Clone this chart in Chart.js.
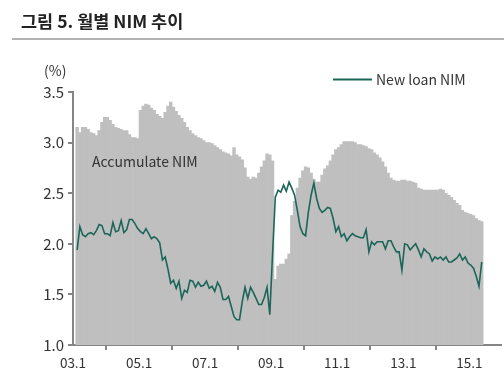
<!DOCTYPE html>
<html>
<head>
<meta charset="utf-8">
<script src="https://cdn.jsdelivr.net/npm/chart.js@4.4.1/dist/chart.umd.min.js"></script>
<style>
  html, body { margin: 0; padding: 0; background: #fff; }
  #wrap { position: relative; width: 504px; height: 379px; }
</style>
</head>
<body>
<div id="wrap"><canvas id="nimChart" width="504" height="379"></canvas></div>
<script>
// 제목과 범례
const chartTitle = "그림 5. 월별 NIM 추이";
const unitLabel = "(%)";
const accLabel = "Accumulate NIM";
const newLabel = "New loan NIM";

// x축 눈금 (24개월 간격)
const tickLabels = ["03.1", "05.1", "07.1", "09.1", "11.1", "13.1", "15.1"];
const firstMonth = 1;         // 데이터는 두 번째 칸부터 시작

// 누적 NIM (월별, 막대)
const accumulateNim = [
  3.15, 3.10, 3.15, 3.15, 3.13, 3.10, 3.09, 3.07, 3.12, 3.20,
  3.25, 3.25, 3.22, 3.18, 3.15, 3.14, 3.13, 3.12, 3.12, 3.08,
  3.05, 3.05, 3.04,
  3.32, 3.36, 3.38, 3.37, 3.34, 3.32, 3.28, 3.26, 3.24, 3.30,
  3.36, 3.40, 3.35, 3.31, 3.27, 3.24, 3.20, 3.15, 3.12, 3.09,
  3.07, 3.05, 3.04, 3.02,
  3.00, 3.00, 2.99, 2.97, 2.95, 2.93, 2.91, 2.90, 2.89, 2.87,
  2.95, 2.88, 2.86, 2.83, 2.75, 2.66, 2.64, 2.66, 2.65, 2.70,
  2.76, 2.82, 2.89, 2.88,
  2.82, 1.65, 1.78, 1.80, 1.80, 1.85, 1.90, 2.28, 2.42, 2.55,
  2.65, 2.72, 2.76, 2.75, 2.70, 2.64, 2.61, 2.61, 2.68, 2.74,
  2.77, 2.82, 2.88, 2.93,
  2.95, 2.98, 3.01, 3.01, 3.01, 3.01, 3.00, 2.98, 2.98, 2.97,
  2.96, 2.94, 2.93, 2.90, 2.88, 2.85, 2.81, 2.76, 2.70, 2.65,
  2.63, 2.62, 2.62, 2.63,
  2.63, 2.62, 2.62, 2.61, 2.60, 2.55, 2.54, 2.53, 2.53, 2.53,
  2.53, 2.53, 2.53, 2.54, 2.53, 2.50, 2.48, 2.46, 2.43, 2.40,
  2.38, 2.33, 2.31, 2.30,
  2.29, 2.28, 2.25, 2.23, 2.22
];

// 신규취급 NIM (월별, 선)
const newLoanNim = [
  1.94, 2.17, 2.09, 2.07, 2.10, 2.11, 2.09, 2.13, 2.19, 2.18,
  2.10, 2.10, 2.08, 2.21, 2.12, 2.13, 2.23, 2.11, 2.14, 2.24,
  2.24, 2.20, 2.15, 2.12, 2.10, 2.15, 2.10, 2.05, 2.07, 2.05,
  2.01, 1.84, 1.87, 1.75, 1.61, 1.64, 1.56, 1.63, 1.46, 1.54,
  1.52, 1.64, 1.63, 1.57, 1.62, 1.58, 1.59, 1.63, 1.56, 1.58,
  1.53, 1.62, 1.57, 1.45, 1.45, 1.48, 1.38, 1.28, 1.25, 1.25,
  1.43, 1.57, 1.46, 1.57, 1.52, 1.46, 1.40, 1.40, 1.47, 1.57,
  1.30, 1.90, 2.46, 2.53, 2.51, 2.58, 2.52, 2.61, 2.55, 2.48,
  2.33, 2.17, 2.10, 2.08, 2.31, 2.48, 2.60, 2.45, 2.35, 2.31,
  2.33, 2.36, 2.35, 2.25, 2.12, 2.17, 2.07, 2.10, 2.03,
  2.07, 2.10, 2.08, 2.07, 2.06, 2.06, 2.14, 1.92, 2.02, 1.99,
  2.02, 2.02, 2.02, 1.95, 2.03, 2.03, 1.97, 1.92, 1.92, 1.74,
  2.00, 1.99, 1.94, 1.97, 2.00, 1.94, 1.87, 1.95, 1.92, 1.90,
  1.83, 1.87, 1.85, 1.87, 1.84, 1.87, 1.82, 1.82, 1.84, 1.86,
  1.90, 1.84, 1.87, 1.81, 1.79, 1.76, 1.68, 1.58, 1.82
];

const barColor = "#bfbfbf";
const lineColor = "#1b6658";
const axisColor = "#858585";
const textColor = "#333333";
const fontFamily = '"Noto Sans CJK KR", "Noto Sans", sans-serif';

// 각 월의 중앙 위치에 점 배치
const toPoints = arr => arr.map((v, i) => ({ x: firstMonth + i + 0.5, y: v }));

// 제목, 단위, 범례 등 텍스트
const textPlugin = {
  id: "texts",
  afterDraw(chart) {
    const ctx = chart.ctx;
    ctx.save();
    ctx.textBaseline = "middle";

    ctx.fillStyle = "#222";
    ctx.font = "bold 17.5px " + fontFamily;
    ctx.fillText(chartTitle, 21, 21);

    ctx.strokeStyle = "#9a9a9a";
    ctx.lineWidth = 1.5;
    ctx.beginPath();
    ctx.moveTo(12, 39);
    ctx.lineTo(504, 39);
    ctx.stroke();

    ctx.fillStyle = textColor;
    ctx.font = "14px " + fontFamily;
    ctx.fillText(unitLabel, 44, 71);
    ctx.fillText(accLabel, 92, 162);

    ctx.strokeStyle = lineColor;
    ctx.lineWidth = 2;
    ctx.beginPath();
    ctx.moveTo(333, 79.5);
    ctx.lineTo(372, 79.5);
    ctx.stroke();
    ctx.fillText(newLabel, 376, 80);
    ctx.restore();
  }
};

const ctx = document.getElementById("nimChart").getContext("2d");
new Chart(ctx, {
  data: {
    datasets: [
      {
        type: "line",
        label: newLabel,
        data: toPoints(newLoanNim),
        borderColor: lineColor,
        borderWidth: 1.6,
        pointRadius: 0,
        tension: 0,
        order: 0
      },
      {
        type: "bar",
        label: accLabel,
        data: toPoints(accumulateNim),
        backgroundColor: barColor,
        borderWidth: 0,
        barPercentage: 1,
        categoryPercentage: 1,
        order: 1
      }
    ]
  },
  options: {
    responsive: false,
    animation: false,
    layout: { padding: { left: 0, top: 92, right: 3, bottom: 0 } },
    plugins: {
      legend: { display: false },
      tooltip: { enabled: false }
    },
    scales: {
      x: {
        type: "linear",
        min: 0,
        max: 155.5,
        offset: false,
        afterBuildTicks: scale => {
          scale.ticks = tickLabels.map((_, i) => ({ value: i * 24 }));
        },
        afterFit: scale => { scale.height = 34; },
        ticks: {
          autoSkip: false,
          maxRotation: 0,
          padding: 5,
          color: textColor,
          font: { family: fontFamily, size: 13.5 },
          callback: (value, index) => tickLabels[index]
        },
        grid: {
          drawOnChartArea: false,
          drawTicks: true,
          tickLength: 5,
          color: axisColor,
          lineWidth: 2
        },
        border: { display: true, color: axisColor, width: 2 }
      },
      y: {
        min: 1.0,
        max: 3.5,
        afterFit: scale => { scale.width = 73; },
        ticks: {
          stepSize: 0.5,
          padding: 4,
          color: textColor,
          font: { family: fontFamily, size: 15 },
          callback: v => v.toFixed(1)
        },
        grid: {
          drawOnChartArea: false,
          drawTicks: true,
          tickLength: 5,
          color: axisColor,
          lineWidth: 2
        },
        border: { display: true, color: axisColor, width: 2 }
      }
    }
  },
  plugins: [textPlugin]
});
</script>
</body>
</html>
